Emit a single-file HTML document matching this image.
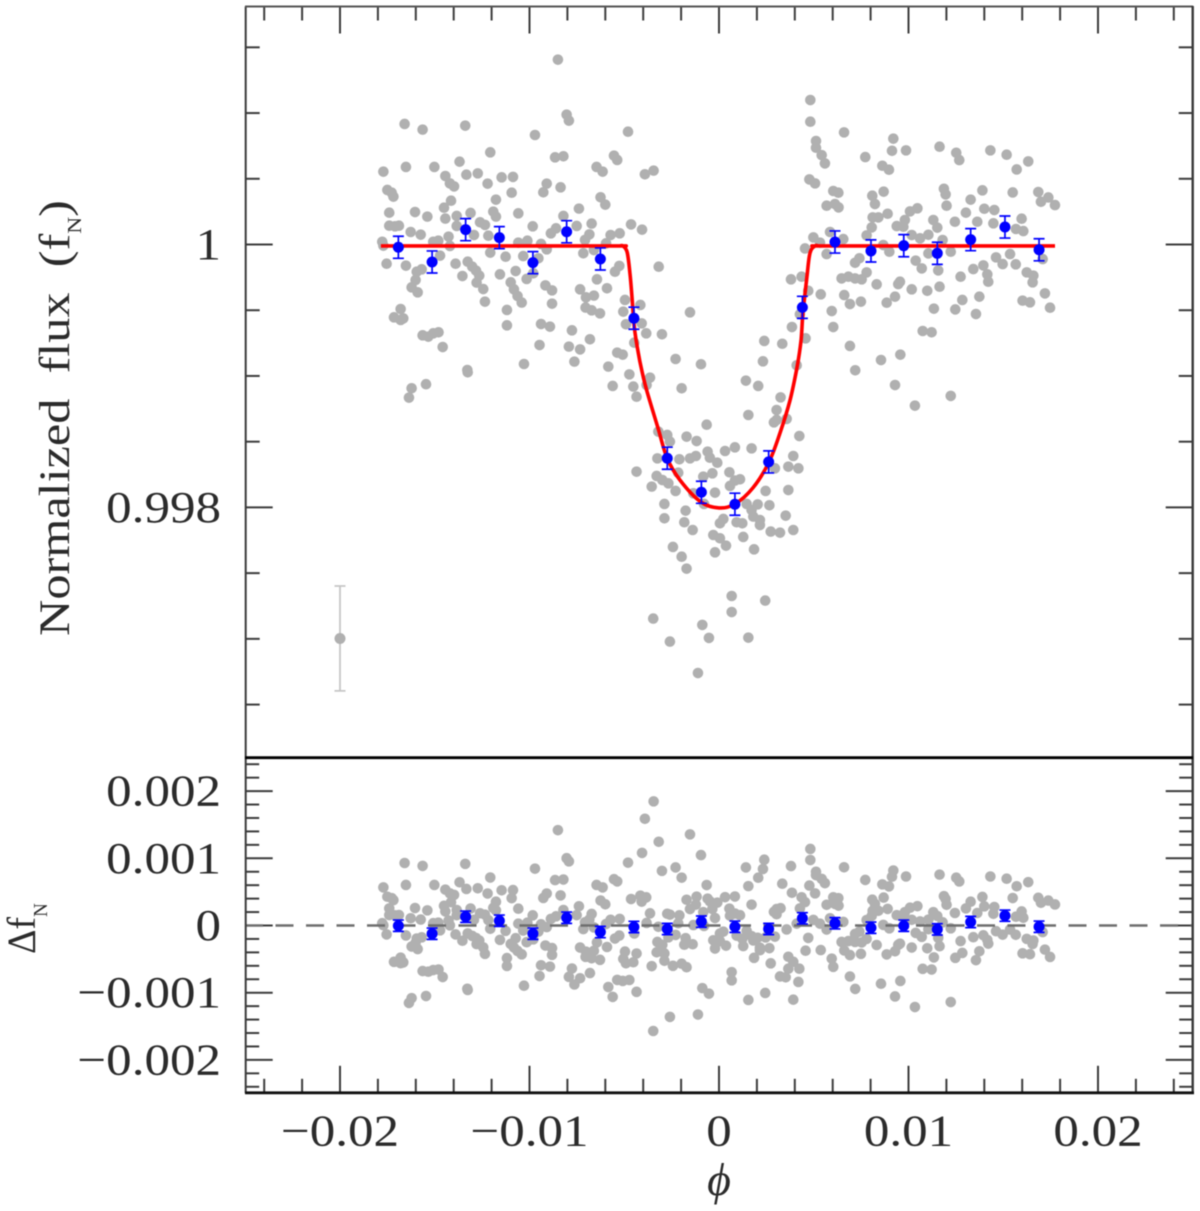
<!DOCTYPE html>
<html lang="en">
<head>
<meta charset="utf-8">
<title>Normalized flux and residuals versus phase</title>
<style>
  html, body { margin: 0; padding: 0; background: #fff; }
  #chart { display: block; width: 1200px; height: 1211px; filter: blur(0.6px); }
  text { font-family: "Liberation Serif", "DejaVu Serif", serif; fill: #2b2b2b; }
</style>
</head>
<body>
<svg id="chart" xmlns="http://www.w3.org/2000/svg" width="1200" height="1211" viewBox="0 0 1200 1211">
  <g id="ticks" stroke="#3c3c3c" stroke-width="2"></g>
  <g id="top-points"></g>
  <g id="sample-error"></g>
  <g id="model"></g>
  <g id="top-bins"></g>
  <g id="bottom-points"></g>
  <g id="zero"></g>
  <g id="bottom-bins"></g>
  <g fill="none">
    <line x1="245.7" y1="6.5" x2="245.7" y2="1093" stroke="#3a3a3a" stroke-width="2"/>
    <line x1="245" y1="6.5" x2="1193" y2="6.5" stroke="#555" stroke-width="2"/>
    <line x1="1192.7" y1="6" x2="1192.7" y2="1093" stroke="#3a3a3a" stroke-width="2.4"/>
    <line x1="245" y1="757.7" x2="1193" y2="757.7" stroke="#000" stroke-width="2.8"/>
    <line x1="245" y1="1092.8" x2="1194" y2="1092.8" stroke="#111" stroke-width="2.8"/>
  </g>
  <g id="labels"></g>
  <text transform="translate(69,636) rotate(-90) scale(1.17,1)" font-size="43" xml:space="preserve">Normalized&#160;&#160;flux&#160;&#160;(f<tspan font-size="20" dy="12">N</tspan><tspan dy="-12">)</tspan></text>
  <text transform="translate(35,954) rotate(-90) scale(0.95,1)" font-size="40">Δf<tspan font-size="20" dy="12">N</tspan></text>
  <text x="719" y="1195" text-anchor="middle" font-size="46" font-style="italic">ϕ</text>
</svg>
<script>
// Phase of each unbinned point, in units of 1e-5.
const fluxPhase = [
-850,-1659,-1564,-1339,-971,-804,-792,-480,-1207,-865,-821,-554,-537,-1369,-1771,-1652,-1502,-1444,-1333,-1273,
-1221,-1147,-1087,-646,-614,-391,-345,-1420,-1398,-1750,-1727,-1718,-909,-927,-836,-1094,-1177,-1414,-1451,-625,
-600,-739,-1740,-1604,-1539,-1444,-1384,-1311,-1191,-1177,-1059,-821,-1740,-1710,-1689,-1627,-1574,-1384,-1261,-1235,
-1217,-983,-887,-860,-751,-672,-464,-406,-684,-707,-572,-524,-1427,-1481,-1508,-1420,-1293,-1011,-1059,-939,
-909,-596,-1777,-1771,-660,-716,-1207,-1126,-1033,-953,-1472,-1754,-1652,-1569,-1595,-1390,-1326,-1302,-1282,-1265,
-1354,-1279,-1244,-1156,-1073,-1015,-980,-1099,-1082,-1063,-1041,-916,-881,-881,-733,-702,-660,-591,-644,-549,
-526,-318,-1601,-1622,-1590,-1235,-496,-415,-505,-704,-672,-628,-153,-1680,-1715,-1680,-1666,-1119,-1119,-939,
-892,-776,-681,-491,-408,-384,-301,-1564,-1534,-1508,-1480,-1458,-947,-792,-733,-447,-537,-508,-229,-1029,
-763,-584,-95,-1328,
-1622,-1546,-1636,-1326,
-473,-364,-561,-452,-382,-435,-197,142,207,325,304,155,357,304,290,-65,-320,-273,-259,-171,
-118,424,84,32,172,-60,-48,-122,-153,-209,-325,-9,392,366,419,295,-435,-215,-35,55,
-83,-329,-299,-267,111,84,58,-355,-229,-21,246,366,-135,-288,-79,146,204,266,172,-176,
352,23,-288,181,216,-183,5,93,123,216,-139,392,273,322,-30,5,128,37,185,-243,
-21,-197,-171,67,244,67,-347,-88,-53,155,-259,-111,
482,482,660,920,512,512,542,559,772,913,987,1164,1252,1268,1432,1518,1632,1571,862,897,
477,507,603,630,869,809,1187,1196,1390,1550,1685,1738,1699,1773,1328,823,568,612,631,1201,
1047,1008,1400,1453,1303,890,811,841,981,1131,1597,1245,1363,1448,806,938,973,1152,1567,1606,
586,779,498,656,1105,1061,1017,533,1180,867,454,899,1223,1105,568,1536,741,718,1038,1070,
1462,1497,1395,1342,1708,1157,1566,779,1624,1659,1275,1416,1421,1655,647,683,718,753,380,436,
832,955,946,1017,1099,1164,471,537,661,929,1374,1720,691,749,885,1284,1602,1641,1134,1247,
1747,595,1356,427,603,385,1075,1122,457,239,334,691,957,855,232,410,719,929,1223,1034
];
// Flux of each unbinned point, as parts per million away from 1.
const fluxPpm = [
1406,917,874,904,833,988,942,858,701,663,671,676,643,630,554,590,590,521,531,541,
463,511,514,590,554,534,562,465,442,415,394,364,463,397,435,394,341,333,280,359,
303,273,242,247,212,197,217,240,250,212,237,217,143,138,143,95,75,141,169,149,
67,138,85,123,141,159,153,113,77,35,72,85,60,29,21,-11,72,29,14,4,
-37,9,21,-9,-42,-67,-62,-93,-88,-105,-85,-146,-161,-189,-207,-146,-131,-169,-199,-237,
-240,-290,-339,-227,-202,-262,-219,-288,-341,-392,-442,-311,-349,-450,-341,-402,-389,-333,-265,-207,
-163,-169,-270,-326,-364,-435,-422,-460,-511,-480,-501,-524,-516,-491,-554,-574,-562,-498,-615,-605,
-625,-653,-721,-607,-600,-676,-683,-691,-701,-676,-668,-780,-765,-777,-798,-747,-823,-838,-871,-909,
-891,-929,-911,-955,
-1094,-1063,-1165,-972,
-988,-1013,-1076,-1081,-1069,-1158,-1094,-1036,-1076,-1163,-1259,-1297,-1327,-1335,-1353,-1371,-1424,-1449,-1500,-1462,
-1495,-1457,-1543,-1571,-1551,-1576,-1622,-1609,-1627,-1634,-1627,-1660,-1609,-1690,-1703,-1703,-1728,-1736,-1741,-1733,
-1766,-1761,-1792,-1817,-1786,-1796,-1837,-1842,-1875,-1888,-1875,-1868,-1893,-1974,-1974,-1974,-1977,-1984,-2020,-2025,
-2063,-2088,-2083,-2070,-2096,-2113,-2121,-2113,-2121,-2134,-2172,-2172,-2184,-2192,-2210,-2235,-2225,-2291,-2319,-2301,
-2342,-2375,-2466,-2674,-2709,-2796,-2846,-2894,-2993,-2991,-3021,-3260,
1099,934,853,805,787,736,680,617,665,713,716,744,698,642,716,683,632,571,599,569,
495,465,407,394,402,371,424,381,412,396,399,358,325,300,341,308,295,308,282,295,
275,252,272,262,242,234,206,206,186,186,196,173,173,161,130,140,135,128,118,102,
95,69,54,41,74,47,72,14,34,-4,-30,-55,-55,-68,-73,-73,-105,-139,-123,-182,
-98,-149,-159,-187,-111,-197,-151,-212,-212,-237,-245,-227,-283,-288,-258,-245,-258,-265,-265,-245,
-303,-283,-301,-341,-352,-321,-352,-379,-385,-397,-397,-372,-453,-435,-443,-422,-427,-440,-488,-494,
-481,-506,-529,-531,-628,-628,-658,-668,-714,-734,-755,-772,-838,-879,-889,-919,-957,-1069,-1152,-1226
];
// Residual of each unbinned point, in parts per million.
const residualPpm = [
1419,930,887,917,846,1001,955,935,714,676,684,689,656,643,567,603,603,534,544,554,
476,524,527,603,567,1588,1847,478,455,428,407,377,476,410,448,407,354,346,293,372,
316,286,255,260,225,210,230,253,263,225,250,230,156,151,156,108,88,154,182,162,
80,151,98,136,154,172,394,1080,90,48,85,98,73,42,34,2,85,42,27,17,
-24,22,34,4,-29,-54,-49,-80,-75,-92,-72,-133,-148,-176,-194,-133,-118,-156,-186,-224,
-227,-277,-326,-214,-189,-249,-206,-275,-328,-379,-429,-298,-336,-437,-328,-389,-376,-320,-252,-194,
-150,1246,-257,-313,-351,-422,-388,444,-496,-467,-488,-511,1356,-478,-541,-561,-549,-485,-602,-592,
-612,-640,-708,-562,355,419,813,-678,-688,-663,-655,-767,-752,-764,-785,-119,-810,-825,864,-896,
-878,-916,1048,-942,
-1081,-1050,-1152,-959,
-811,181,-1063,-547,38,-417,712,864,711,257,244,586,-59,168,203,602,-19,175,161,383,
429,-643,431,422,310,400,359,310,245,151,-245,340,-541,-465,-840,-166,-987,34,246,251,
199,-399,-287,-176,153,178,146,-605,-140,111,-178,-643,6,-416,-7,-80,-183,-337,-159,-188,
-771,-92,-525,-223,-330,-286,-119,-151,-197,-368,-279,-1104,-563,-758,-220,-233,-307,-300,-481,-600,
-343,-569,-621,-694,-1004,-816,-1570,-932,-1014,-1108,-1360,-1325,
1139,974,866,818,800,749,693,630,678,726,729,757,711,655,729,696,645,584,612,582,
594,478,420,407,415,384,437,394,425,409,412,371,338,313,354,321,308,321,295,308,
288,265,285,275,255,247,219,219,199,199,209,186,186,174,143,153,148,141,131,115,
108,82,83,54,87,60,85,27,47,9,348,-42,-42,-55,-60,-60,-92,-126,-110,-169,
-85,-136,-146,-174,-98,-184,-138,-199,-199,-224,-232,-214,-270,-275,-245,-232,-245,-252,884,420,
-290,-270,-288,-328,-339,-308,-185,-366,-372,-384,-384,-359,-440,-422,-430,-409,-414,-427,-475,-481,
-468,-493,-516,254,-615,487,-645,-655,-375,979,622,-759,-825,-866,840,27,-944,-1056,-1139,-1213
];
// Binned points: phase (1e-5), flux (ppm from 1), residual (ppm), error (ppm).
const binPhase = [-1692,-1514,-1337,-1159,-982,-804,-626,-449,-273,-93,84,262,440,612,802,975,1152,1328,1509,1689];
const binFluxPpm = [-21,-133,113,52,-138,97,-110,-561,-1626,-1885,-1976,-1654,-478,19,-49,-9,-67,37,133,-40];
const binResidualPpm = [-3,-122,131,71,-122,116,-97,-22,-52,57,-18,-52,107,33,-33,-3,-57,52,146,-18];
const binErrorPpm = [84,84,84,84,84,84,84,84,84,84,84,84,84,84,84,84,84,84,84,84];
// Transit model curve: phase (1e-5), flux (ppm from 1).
const modelPhase = [-1784,-600,-530,-507,-485,-470,-458,-447,-426,-408,-382,-322,-274,-206,-95,0,84,179,264,322,375,412,433,443,464,480,507,530,600,1773];
const modelPpm = [-11,-11,-11,-11,-57,-217,-422,-628,-825,-955,-1107,-1396,-1624,-1792,-1959,-2004,-1974,-1852,-1655,-1434,-1183,-932,-726,-521,-247,-65,-11,-11,-11,-11];
// Representative single-point error bar.
const samplePhase = [-2000];
const samplePpm = [-2997];
const sampleErrorPpm = [399];
// Tick values and labels.
const xMajorTicks = [-0.02,-0.01,0,0.01,0.02];
const xTickLabels = ["−0.02","−0.01","0","0.01","0.02"];
const topTickValues = [0.998,1];
const topTickLabels = ["0.998","1"];
const bottomTickValues = [-0.002,-0.001,0,0.001,0.002];
const bottomTickLabels = ["−0.002","−0.001","0","0.001","0.002"];

const SVGNS = "http://www.w3.org/2000/svg";
function xScale(phase) { return 719 + phase * 18950; }
function yTop(flux) { return 244.5 + (1 - flux) * 131450; }
function yBottom(res) { return 925.5 - res * 67200; }
function fromPhase(u) { return u * 1e-5; }
function fromPpm(v) { return 1 + v * 1e-6; }
function fromRes(v) { return v * 1e-6; }

function make(tag, parent, attrs) {
  const el = document.createElementNS(SVGNS, tag);
  for (const k in attrs) el.setAttribute(k, attrs[k]);
  parent.appendChild(el);
  return el;
}

// Ticks
const tickGroup = document.getElementById("ticks");
function tick(x1, y1, x2, y2, name) {
  const el = make("line", tickGroup, { x1: x1, y1: y1, x2: x2, y2: y2 });
  
  
}
for (let i = -12; i <= 12; i++) {
  const x = xScale(i * 0.002);
  const len = i % 5 === 0 ? 27 : 14;
  tick(x, 6.5, x, 6.5 + len, "top-x-tick");
  tick(x, 1092.8, x, 1092.8 - len, "bottom-x-tick");
}
for (let i = -7; i <= 3; i++) {
  const y = yTop(1 + i * 0.0005);
  const len = i % 4 === 0 ? 27 : 14;
  tick(245.7, y, 245.7 + len, y, "upper-left-y-tick");
  tick(1192.7, y, 1192.7 - len, y, "upper-right-y-tick");
}
for (let i = -12; i <= 12; i++) {
  const y = yBottom(i * 0.0002);
  const len = i % 5 === 0 ? 27 : 13.5;
  tick(245.7, y, 245.7 + len, y, "lower-left-y-tick");
  tick(1192.7, y, 1192.7 - len, y, "lower-right-y-tick");
}

// Tick labels
const labelGroup = document.getElementById("labels");
function label(x, y, anchor, str, name) {
  const el = make("text", labelGroup, { "text-anchor": anchor, "font-size": 44, transform: "translate(" + x + "," + y + ") scale(1.16,1)" });
  el.textContent = str;
  
  
}
xMajorTicks.forEach(function (t, i) { label(xScale(t), 1145.5, "middle", xTickLabels[i], "x-tick-label"); });
topTickValues.forEach(function (t, i) { label(221, yTop(t) + 14.5, "end", topTickLabels[i], "upper-y-tick-label"); });
bottomTickValues.forEach(function (t, i) { label(221, yBottom(t) + 14.5, "end", bottomTickLabels[i], "lower-y-tick-label"); });

// Unbinned scatter
const topPoints = document.getElementById("top-points");
const bottomPoints = document.getElementById("bottom-points");
fluxPhase.forEach(function (u, i) {
  const cx = xScale(fromPhase(u));
  if (fluxPpm[i] !== undefined) {
    const a = make("circle", topPoints, { cx: cx, cy: yTop(fromPpm(fluxPpm[i])), r: 5.3, fill: "#b0b0b0" });
    
    
  }
  if (residualPpm[i] !== undefined) {
    const b = make("circle", bottomPoints, { cx: cx, cy: yBottom(fromRes(residualPpm[i])), r: 5.3, fill: "#b0b0b0" });
    
    
  }
});

// Sample error bar
const sampleGroup = document.getElementById("sample-error");
samplePhase.forEach(function (u, i) {
  const cx = xScale(fromPhase(u));
  const cy = yTop(fromPpm(samplePpm[i]));
  const hi = yTop(fromPpm(samplePpm[i] + sampleErrorPpm[i]));
  const lo = yTop(fromPpm(samplePpm[i] - sampleErrorPpm[i]));
  const path = make("path", sampleGroup, { d: "M" + cx + " " + hi + "V" + lo + "M" + (cx - 5.5) + " " + hi + "H" + (cx + 5.5) + "M" + (cx - 5.5) + " " + lo + "H" + (cx + 5.5), stroke: "#c6c6c6", "stroke-width": 1.8, fill: "none" });
  
  
  const dot = make("circle", sampleGroup, { cx: cx, cy: cy, r: 5.5, fill: "#b0b0b0" });
  
  
});

// Model line: a smooth curve through the model arrays
const modelX = modelPhase.map(function (u) { return xScale(fromPhase(u)); });
const modelY = modelPpm.map(function (v) { return yTop(fromPpm(v)); });
let modelD = "M" + modelX[0].toFixed(1) + " " + modelY[0].toFixed(1);
for (let i = 0; i < modelX.length - 1; i++) {
  const a = Math.max(i - 1, 0);
  const d = Math.min(i + 2, modelX.length - 1);
  const c1x = modelX[i] + (modelX[i + 1] - modelX[a]) / 6;
  const c1y = modelY[i] + (modelY[i + 1] - modelY[a]) / 6;
  const c2x = modelX[i + 1] - (modelX[d] - modelX[i]) / 6;
  const c2y = modelY[i + 1] - (modelY[d] - modelY[i]) / 6;
  modelD += "C" + c1x.toFixed(1) + " " + c1y.toFixed(1) + " " + c2x.toFixed(1) + " " + c2y.toFixed(1) + " " + modelX[i + 1].toFixed(1) + " " + modelY[i + 1].toFixed(1);
}
const modelLine = make("path", document.getElementById("model"), { d: modelD, fill: "none", stroke: "#ff0000", "stroke-width": 3.6, "stroke-linejoin": "round" });



// Residual zero line
const zeroLine = make("line", document.getElementById("zero"), { x1: 245, x2: 1193, y1: yBottom(0), y2: yBottom(0), stroke: "#6e6e6e", "stroke-width": 2.6, "stroke-dasharray": "18 12.5" });



// Binned points with error bars
function drawBins(parent, yFn, values, errScale, dotName, barName) {
  binPhase.forEach(function (u, i) {
    const cx = xScale(fromPhase(u));
    const cy = yFn(values[i]);
    const hi = yFn(values[i] + binErrorPpm[i] * errScale);
    const lo = yFn(values[i] - binErrorPpm[i] * errScale);
    const bar = make("path", parent, { d: "M" + cx + " " + hi + "V" + lo + "M" + (cx - 5.5) + " " + hi + "H" + (cx + 5.5) + "M" + (cx - 5.5) + " " + lo + "H" + (cx + 5.5), stroke: "#0000ff", "stroke-width": 1.7, fill: "none" });
    
    
    const dot = make("circle", parent, { cx: cx, cy: cy, r: 5.5, fill: "#0000ff" });
    
    
  });
}
drawBins(document.getElementById("top-bins"), function (v) { return yTop(fromPpm(v)); }, binFluxPpm, 1, "binned-flux-point", "binned-flux-error-bar");
drawBins(document.getElementById("bottom-bins"), function (v) { return yBottom(fromRes(v)); }, binResidualPpm, 1, "binned-residual-point", "binned-residual-error-bar");
</script>
</body>
</html>
